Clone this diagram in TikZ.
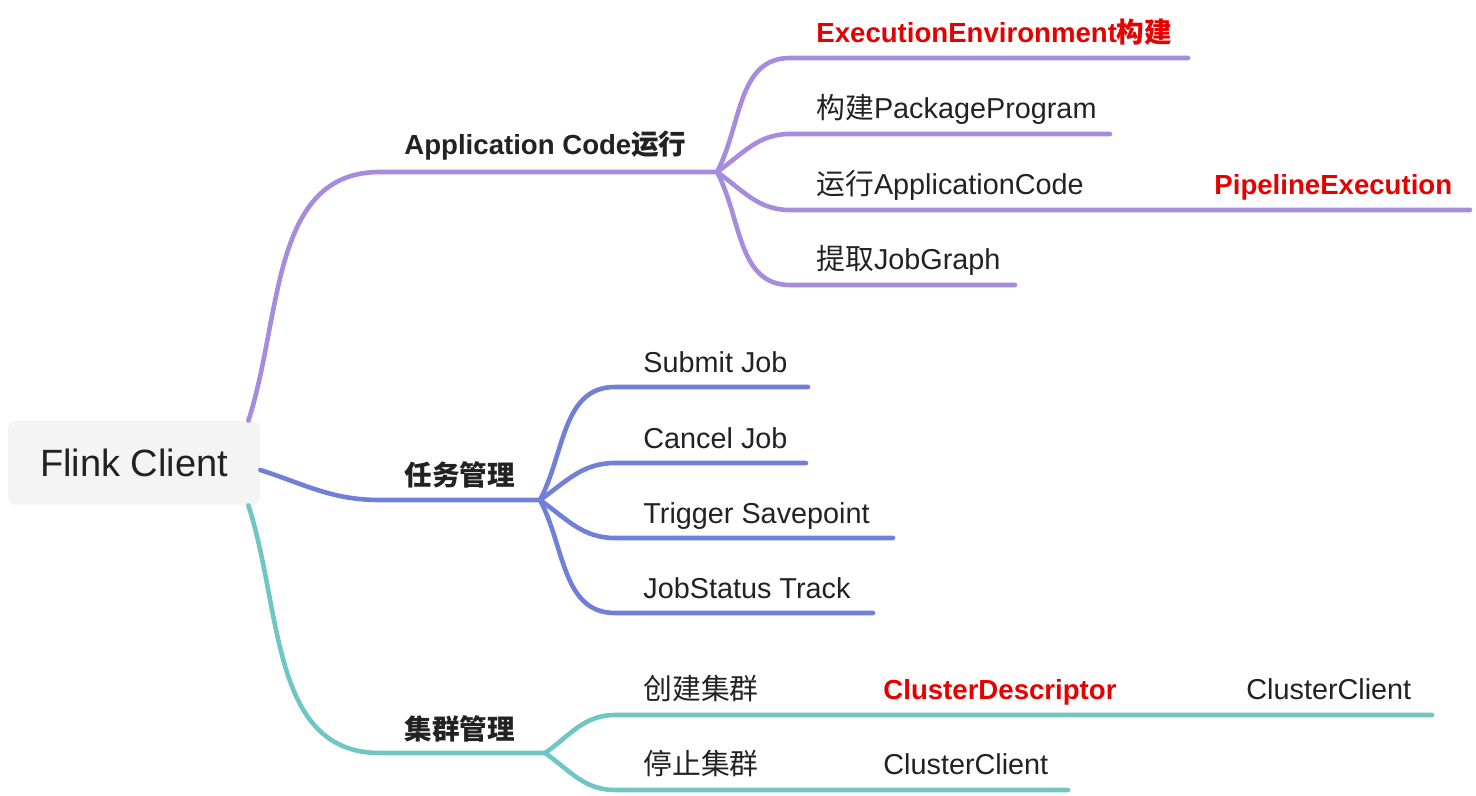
\documentclass[tikz,border=0pt]{standalone}
\usepackage{fontspec}
\setmainfont{Liberation Sans}
\newfontfamily\cjk{Noto Sans CJK SC}
\usetikzlibrary{positioning}
\definecolor{ink}{RGB}{34,34,34}
\definecolor{hotred}{RGB}{230,0,0}
\definecolor{rootbg}{RGB}{244,244,244}
\definecolor{brpurple}{RGB}{166,139,222}
\definecolor{brblue}{RGB}{112,128,216}
\definecolor{brteal}{RGB}{112,197,197}

\begin{document}
\begin{tikzpicture}[x=0.5pt,y=-0.5pt,
  tp/.style={inner sep=0pt,anchor=base west,text=ink,
             font=\fontsize{14.4}{16}\selectfont},
  hd/.style={tp,font=\fontsize{13.8}{16}\selectfont\bfseries},
  hot/.style={hd,text=hotred},
  br/.style={line width=2.3pt,line cap=round},
  rt/.style={fill=rootbg,rounded corners=4pt,minimum width=126pt,
             minimum height=42pt,text=ink,font=\fontsize{19}{22}\selectfont},
]
\useasboundingbox (0,0) rectangle (1476,796);
% ============ root ============
\node[rt] (root) at (134,463) {Flink Client};
% ============ application code ============
\node[hd] (app) at (404,155) {Application Code{\cjk 运行}};
\coordinate (app-s) at (380,172);
\coordinate (app-f) at (717,172);
\draw[br,brpurple] ([xshift=-6pt]root.north east) to[out=72,in=180] (app-s) -- (app-f);
\node[hot] (env) at (816,43) {ExecutionEnvironment{\cjk 构建}};
\node[tp] (pkg) at (816,119) {{\cjk 构建}PackageProgram};
\node[tp] (run) at (816,195) {{\cjk 运行}ApplicationCode};
\node[hot] (pipe) at (1214,195) {PipelineExecution};
\node[tp] (jg) at (816,270) {{\cjk 提取}JobGraph};
\coordinate (env-s) at (790,58);  \coordinate (env-e) at (1188,58);
\coordinate (pkg-s) at (790,134); \coordinate (pkg-e) at (1110,134);
\coordinate (run-s) at (790,210); \coordinate (run-e) at (1190,210);
\coordinate (pipe-e) at (1470,210);
\coordinate (jg-s) at (790,285);  \coordinate (jg-e) at (1015,285);
\draw[br,brpurple] (app-f) to[out=62,in=180] (env-s) -- (env-e);
\draw[br,brpurple] (app-f) to[out=35,in=180] (pkg-s) -- (pkg-e);
\draw[br,brpurple] (app-f) to[out=-35,in=180] (run-s) -- (run-e) -- (pipe-e);
\draw[br,brpurple] (app-f) to[out=-62,in=180] (jg-s) -- (jg-e);
% ============ job management ============
\node[hd] (task) at (404,485) {\cjk 任务管理};
\coordinate (task-s) at (380,500);
\coordinate (task-f) at (540,500);
\draw[br,brblue] ([yshift=-3.5pt]root.east) to[out=-18,in=180] (task-s) -- (task-f);
\node[tp] (sub) at (643,372) {Submit Job};
\node[tp] (can) at (643,448) {Cancel Job};
\node[tp] (sav) at (643,523) {Trigger Savepoint};
\node[tp] (trk) at (643,598) {JobStatus Track};
\coordinate (sub-s) at (615,387); \coordinate (sub-e) at (808,387);
\coordinate (can-s) at (615,463); \coordinate (can-e) at (806,463);
\coordinate (sav-s) at (615,538); \coordinate (sav-e) at (893,538);
\coordinate (trk-s) at (615,613); \coordinate (trk-e) at (873,613);
\draw[br,brblue] (task-f) to[out=62,in=180] (sub-s) -- (sub-e);
\draw[br,brblue] (task-f) to[out=35,in=180] (can-s) -- (can-e);
\draw[br,brblue] (task-f) to[out=-35,in=180] (sav-s) -- (sav-e);
\draw[br,brblue] (task-f) to[out=-62,in=180] (trk-s) -- (trk-e);
% ============ cluster management ============
\node[hd] (clu) at (404,739) {\cjk 集群管理};
\coordinate (clu-s) at (380,753);
\coordinate (clu-f) at (545,753);
\draw[br,brteal] ([xshift=-6pt]root.south east) to[out=-72,in=180] (clu-s) -- (clu-f);
\node[tp] (mk) at (643,699) {\cjk 创建集群};
\node[hot] (desc) at (883,699) {ClusterDescriptor};
\node[tp] (cc1) at (1246,699) {ClusterClient};
\node[tp] (stop) at (643,774) {\cjk 停止集群};
\node[tp] (cc2) at (883,774) {ClusterClient};
\coordinate (mk-s) at (615,715);   \coordinate (mk-e) at (860,715);
\coordinate (desc-e) at (1135,715); \coordinate (cc1-e) at (1432,715);
\coordinate (stop-s) at (615,790); \coordinate (stop-e) at (860,790);
\coordinate (cc2-e) at (1068,790);
\draw[br,brteal] (clu-f) to[out=35,in=180] (mk-s) -- (mk-e) -- (desc-e) -- (cc1-e);
\draw[br,brteal] (clu-f) to[out=-35,in=180] (stop-s) -- (stop-e) -- (cc2-e);
\end{tikzpicture}
\end{document}
